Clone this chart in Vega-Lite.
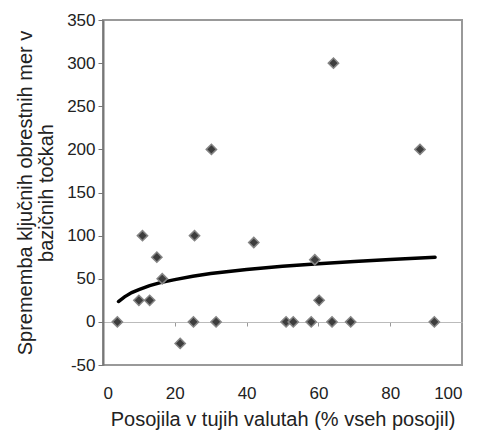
{
  "$schema": "https://vega.github.io/schema/vega-lite/v6.json",
  "width": 359,
  "height": 345,
  "autosize": "none",
  "padding": {"left": 103, "top": 20, "right": 15, "bottom": 65},
  "config": {
    "font": "Liberation Sans",
    "view": {"stroke": "#999", "strokeWidth": 2},
    "axis": {"grid": false, "labelFontSize": 17, "labelColor": "#222", "titleFontSize": 20, "titleFontWeight": "normal", "titleColor": "#222"}
  },
  "datasets": {
    "points": [
      {"x": 4, "y": 0}, {"x": 10, "y": 25}, {"x": 11, "y": 100}, {"x": 13, "y": 25},
      {"x": 15, "y": 75}, {"x": 16.5, "y": 50}, {"x": 21.5, "y": -25}, {"x": 25.2, "y": 0},
      {"x": 25.5, "y": 100}, {"x": 30.2, "y": 200}, {"x": 31.5, "y": 0}, {"x": 42, "y": 92},
      {"x": 51, "y": 0}, {"x": 53, "y": 0}, {"x": 58, "y": 0}, {"x": 59, "y": 72},
      {"x": 60.2, "y": 25}, {"x": 64.2, "y": 300}, {"x": 63.8, "y": 0}, {"x": 69, "y": 0},
      {"x": 88.3, "y": 200}, {"x": 92.3, "y": 0}
    ],
    "trend": [
      {"x": 4.3, "y": 23.6}, {"x": 6, "y": 29}, {"x": 8, "y": 34}, {"x": 10, "y": 37.5},
      {"x": 13, "y": 42}, {"x": 16, "y": 45.5}, {"x": 20, "y": 49}, {"x": 25, "y": 53},
      {"x": 30, "y": 56}, {"x": 35, "y": 58.5}, {"x": 40, "y": 60.8}, {"x": 50, "y": 64.5},
      {"x": 60, "y": 67.5}, {"x": 70, "y": 70}, {"x": 80, "y": 72.3}, {"x": 92.5, "y": 74.8}
    ]
  },
  "layer": [
    {
      "data": {"name": "trend"},
      "mark": {"type": "line", "color": "#000", "strokeWidth": 3.5, "strokeCap": "round"},
      "encoding": {
        "x": {"field": "x", "type": "quantitative", "scale": {"domain": [0, 100], "nice": false},
          "axis": {"orient": "bottom", "offset": -43, "values": [0, 20, 40, 60, 80, 100], "labels": false, "title": null, "domainColor": "#bbb", "domainWidth": 1, "tickColor": "#999", "tickSize": 4}},
        "y": {"field": "y", "type": "quantitative", "scale": {"domain": [-50, 350], "nice": false},
          "axis": {"values": [-50, 0, 50, 100, 150, 200, 250, 300, 350], "labelExpr": "replace(datum.label, '\u2212', '-')", "domainColor": "#777", "domainWidth": 2, "tickColor": "#777", "tickSize": 5, "labelPadding": 3,
            "title": ["Sprememba ključnih obrestnih mer v", "bazičnih točkah"], "titleLineHeight": 21, "titlePadding": 10}}
      }
    },
    {
      "data": {"name": "points"},
      "mark": {"type": "point", "shape": "diamond", "filled": true, "size": 105, "fill": "#3d3d3d", "stroke": "#858585", "strokeWidth": 1.5, "opacity": 1},
      "encoding": {
        "x": {"field": "x", "type": "quantitative", "scale": {"domain": [0, 100], "nice": false},
          "axis": {"orient": "bottom", "values": [0, 20, 40, 60, 80, 100], "domain": false, "ticks": false, "labelPadding": 20, "title": "Posojila v tujih valutah (% vseh posojil)", "titlePadding": 8}},
        "y": {"field": "y", "type": "quantitative", "scale": {"domain": [-50, 350], "nice": false},
          "axis": {"values": [-50, 0, 50, 100, 150, 200, 250, 300, 350], "labelExpr": "replace(datum.label, '\u2212', '-')", "domainColor": "#777", "domainWidth": 2, "tickColor": "#777", "tickSize": 5, "labelPadding": 3,
            "title": ["Sprememba ključnih obrestnih mer v", "bazičnih točkah"], "titleLineHeight": 21, "titlePadding": 10}}
      }
    }
  ],
  "resolve": {"axis": {"x": "independent"}}
}
